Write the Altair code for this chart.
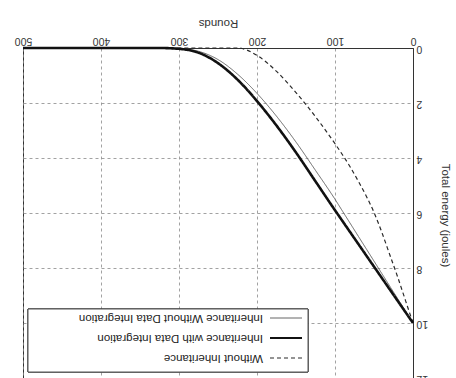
import altair as alt
import pandas as pd

# ---- data read from the (upside-down) scanned figure ----
rounds = [0, 10, 20, 30, 40, 50, 60, 70, 80, 90, 100, 125, 150, 175, 200, 225, 250, 275, 300, 325, 350, 400, 450, 500]
with_di = [10, 9.59, 9.18, 8.77, 8.36, 7.95, 7.54, 7.13, 6.72, 6.31, 5.9, 4.85, 3.8, 2.82, 1.93, 1.15, 0.55, 0.17, 0.03, 0, 0, 0, 0, 0]
without_di = [10, 9.55, 9.1, 8.65, 8.2, 7.75, 7.3, 6.85, 6.4, 5.95, 5.5, 4.45, 3.42, 2.48, 1.65, 0.95, 0.42, 0.12, 0.02, 0, 0, 0, 0, 0]
without_inh = [10, 9.15, 8.3, 7.5, 6.7, 5.98, 5.38, 4.85, 4.35, 3.9, 3.48, 2.5, 1.62, 0.85, 0.27, 0, 0, 0, 0, 0, 0, 0, 0, 0]

series_names = ["Without Inheritance", "Inheritance with Data Integration", "Inheritance Without Data Integration"]
x_ticks = [0, 100, 200, 300, 400, 500]
y_ticks = [0, 2, 4, 6, 8, 10, 12]

FONT = "Liberation Sans"

styles = {
    series_names[0]: dict(color="#2a2a2a", strokeWidth=1.2, strokeDash=[4, 3]),
    series_names[1]: dict(color="#111111", strokeWidth=2.6, strokeDash=[1, 0]),
    series_names[2]: dict(color="#666666", strokeWidth=1.0, strokeDash=[1, 0]),
}

x_enc = alt.X(
    "rounds:Q",
    scale=alt.Scale(domain=[0, 500], reverse=True, nice=False, zero=False),
    axis=alt.Axis(
        orient="top", values=x_ticks, labelAngle=180, labelAlign="center",
        labelBaseline="top", labelPadding=3, ticks=False,
        title="Rounds", titleAngle=180, titleBaseline="top", titleY=-20,
        titleFontSize=11.5, titleFontWeight="normal", titleFont=FONT, titleColor="#333",
        labelFont=FONT, labelFontSize=10.5, labelColor="#333",
        grid=True, gridDash=[3, 3], gridColor="#8a8a8a", gridWidth=0.8,
        domainColor="#333",
    ),
)
y_enc = alt.Y(
    "energy:Q",
    scale=alt.Scale(domain=[0, 12], reverse=True, nice=False, zero=False),
    axis=alt.Axis(
        orient="right", values=y_ticks, labelAngle=180, labelAlign="right",
        labelBaseline="middle", labelPadding=3, ticks=False,
        title="Total energy (joules)", titleX=31, titleY=167, titleBaseline="middle",
        titleFontSize=11.5, titleFontWeight="normal", titleFont=FONT, titleColor="#333",
        labelFont=FONT, labelFontSize=10.5, labelColor="#333",
        grid=True, gridDash=[3, 3], gridColor="#8a8a8a", gridWidth=0.8,
        domainColor="#333",
    ),
)

def series_df(name, vals):
    return pd.DataFrame({"rounds": rounds, "energy": vals, "series": name})

line_layers = []
# draw order: dashed, thin, thick on top
for name, vals in [(series_names[0], without_inh), (series_names[2], without_di), (series_names[1], with_di)]:
    st = styles[name]
    line_layers.append(
        alt.Chart(series_df(name, vals)).mark_line(
            interpolate="monotone", color=st["color"], strokeWidth=st["strokeWidth"], strokeDash=st["strokeDash"]
        ).encode(x=x_enc, y=y_enc, order=alt.Order("rounds:Q"))
    )

# ---- legend drawn upside-down (the whole figure is rotated 180 degrees) ----
leg_df = pd.DataFrame({"series": series_names})
box = alt.Chart(leg_df).mark_rect(fill="white", stroke="#444", strokeWidth=0.9).encode(
    x=alt.value(5), x2=alt.value(285), y=alt.value(261), y2=alt.value(324)
)
legend_layers = [box]
row_y = {series_names[2]: 270, series_names[1]: 290, series_names[0]: 310}
for name in series_names:
    st = styles[name]
    sub = leg_df[leg_df["series"] == name]
    yy = row_y[name]
    legend_layers.append(
        alt.Chart(sub).mark_rule(color=st["color"], strokeWidth=min(st["strokeWidth"], 1.8), strokeDash=st["strokeDash"]).encode(
            x=alt.value(247), x2=alt.value(279), y=alt.value(yy)
        )
    )
    legend_layers.append(
        alt.Chart(sub).mark_text(
            angle=180, align="left", baseline="middle", font=FONT, fontSize=11.5, color="#222"
        ).encode(x=alt.value(240), y=alt.value(yy), text="series:N")
    )

chart = alt.layer(*line_layers, *legend_layers).properties(
    width=390, height=330,
    autosize=alt.AutoSizeParams(type="none"),
    padding={"left": 23, "top": 48, "right": 43, "bottom": 0},
    background="white",
).configure_view(stroke="#333", strokeWidth=1)

chart.save("out.html", embed_options={"renderer": "svg", "actions": False})
